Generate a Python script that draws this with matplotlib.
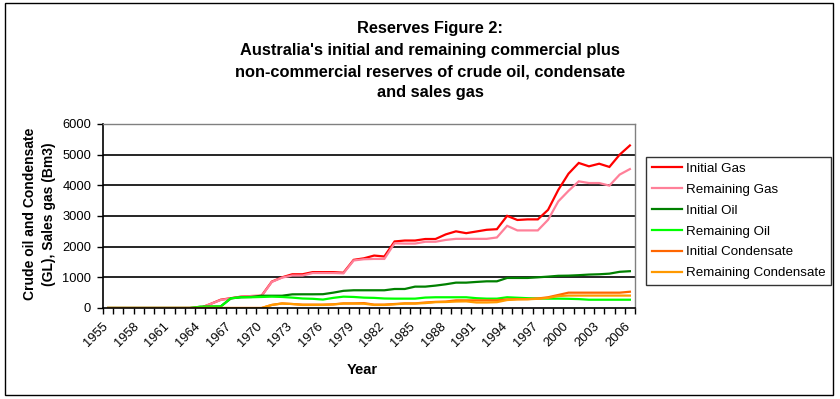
import matplotlib
matplotlib.use("Agg")
import matplotlib.pyplot as plt
import matplotlib.transforms as mtransforms
from matplotlib.patches import Rectangle
from matplotlib.ticker import FixedLocator, NullFormatter

plt.rcParams['font.family'] = ['Liberation Sans', 'DejaVu Sans']

years = list(range(1955, 2007))

initial_gas = [0]*10 + [130, 270, 320, 370, 390, 400,
               860, 1000, 1100, 1100, 1170, 1170, 1170, 1150, 1570, 1620,
               1710, 1680, 2170, 2200, 2200, 2250, 2250, 2400, 2500, 2440,
               2495, 2550, 2570, 3005, 2870, 2890, 2890, 3200, 3850, 4380,
               4730, 4620, 4705, 4600, 5000, 5300]
remaining_gas = [0]*10 + [130, 260, 315, 370, 390, 390,
                 850, 990, 1060, 1060, 1140, 1140, 1140, 1130, 1550, 1590,
                 1600, 1600, 2110, 2100, 2100, 2160, 2160, 2220, 2255, 2255,
                 2255, 2255, 2300, 2680, 2530, 2530, 2530, 2875, 3475, 3820,
                 4130, 4075, 4075, 3990, 4350, 4530]
initial_oil = [0]*9 + [40, 45, 50, 315, 350, 360, 400,
               400, 400, 445, 447, 447, 450, 500, 560, 578, 578,
               578, 578, 620, 620, 697, 697, 730, 773, 827, 827,
               850, 870, 870, 980, 980, 980, 1000, 1023, 1050, 1055,
               1070, 1090, 1100, 1120, 1180, 1200]
remaining_oil = [0]*9 + [40, 45, 50, 315, 350, 350, 360,
                 370, 360, 338, 310, 300, 275, 330, 370, 360, 338,
                 330, 310, 305, 305, 305, 340, 350, 350, 350, 350,
                 320, 305, 305, 350, 335, 320, 310, 305, 305, 300,
                 290, 270, 270, 270, 270, 270]
initial_condensate = [0]*16 + [100, 150, 130, 110, 110, 110, 120, 150, 150, 160,
                      110, 110, 130, 150, 150, 180, 200, 210, 250, 250,
                      250, 250, 250, 280, 290, 290, 310, 350, 425, 500,
                      500, 500, 500, 500, 500, 530]
remaining_condensate = [0]*16 + [100, 145, 130, 100, 100, 100, 115, 145, 145, 140,
                        100, 100, 120, 145, 145, 160, 190, 195, 210, 215,
                        180, 180, 190, 260, 280, 285, 300, 330, 390, 405,
                        405, 405, 405, 405, 405, 405]

series = [
    ("Initial Gas", initial_gas, "#FF0000"),
    ("Remaining Gas", remaining_gas, "#FF8099"),
    ("Initial Oil", initial_oil, "#008000"),
    ("Remaining Oil", remaining_oil, "#00FF00"),
    ("Initial Condensate", initial_condensate, "#FF6600"),
    ("Remaining Condensate", remaining_condensate, "#FF9900"),
]

W, H = 840, 399
fig = plt.figure(figsize=(W/100, H/100), dpi=100)
fig.patch.set_facecolor('white')

# axes in pixel coords: left 103, right 635, top 124, bottom 308
ax = fig.add_axes([103/W, 1-308/H, (635-103)/W, (308-124)/H])
x = list(range(len(years)))
handles = []
for name, vals, col in series:
    h, = ax.plot(x, vals, color=col, lw=1.6, label=name, solid_joinstyle='miter')
    handles.append(h)

ax.set_xlim(-0.5, len(years)-0.5)
ax.set_ylim(0, 6000)
ax.set_yticks(range(0, 6001, 1000))
ax.set_yticklabels([str(v) for v in range(0, 6001, 1000)], fontsize=9.3)
for v in range(1000, 6000, 1000):
    ax.axhline(v, color='black', lw=1.2, zorder=0)

lab_idx = list(range(0, len(years), 3))
ax.set_xticks(lab_idx)
ax.set_xticklabels([str(years[i]) for i in lab_idx], rotation=45, ha='right',
                   va='top', rotation_mode='anchor', fontsize=9.3)
ax.tick_params(axis='x', which='major', length=0, pad=6)
offset = mtransforms.ScaledTranslation(-6/100, -4/100, fig.dpi_scale_trans)
for lbl in ax.get_xticklabels():
    lbl.set_transform(lbl.get_transform() + offset)
ax.xaxis.set_minor_locator(FixedLocator([i - 0.5 for i in range(len(years)+1)]))
ax.xaxis.set_minor_formatter(NullFormatter())
ax.tick_params(axis='x', which='minor', length=4.5, width=1, direction='out', color='black')
ax.tick_params(axis='y', length=4.5, width=1, direction='out', pad=4, color='black')

for s in ['top', 'right']:
    ax.spines[s].set_color('#808080')
    ax.spines[s].set_linewidth(1)
for s in ['left', 'bottom']:
    ax.spines[s].set_color('black')
    ax.spines[s].set_linewidth(1.2)

# Title
title_lines = ["Reserves Figure 2:",
               "Australia's initial and remaining commercial plus",
               "non-commercial reserves of crude oil, condensate",
               "and sales gas"]
for k, line in enumerate(title_lines):
    fig.text(430/W, 1-(29 + 21.3*k)/H, line, ha='center', va='center',
             fontsize=11.8, fontweight='bold')

fig.text(39.5/W, 1-214/H, "Crude oil and Condensate\n(GL), Sales gas (Bm3)",
         rotation=90, ha='center', va='center', fontsize=10, fontweight='bold',
         linespacing=1.45)
fig.text(362/W, 1-370/H, "Year", ha='center', va='center', fontsize=10.5,
         fontweight='bold')

leg = fig.legend(handles=handles, loc='upper left',
                 bbox_to_anchor=(646/W, 1-157/H), fontsize=9.6, frameon=True,
                 fancybox=False, edgecolor='black', borderaxespad=0,
                 handlelength=2.3, handletextpad=0.25, labelspacing=0.64,
                 borderpad=0.42)
leg.get_frame().set_linewidth(1)

fig.patches.append(Rectangle((5/W, 1-395/H), (833-5)/W, (395-3)/H,
                             transform=fig.transFigure, fill=False,
                             edgecolor='black', lw=1))

fig.savefig("out.png", dpi=100, facecolor='white')
